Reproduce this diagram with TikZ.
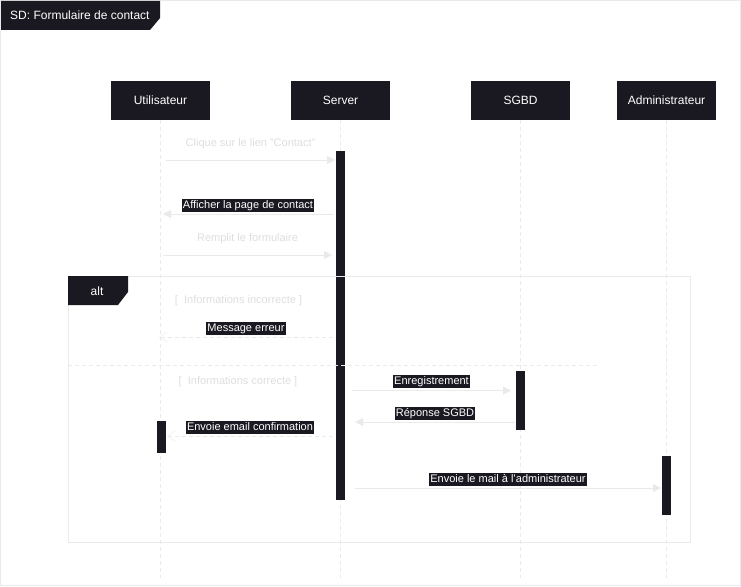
\documentclass[tikz,border=0pt]{standalone}
\usepackage{fontspec}
\setmainfont{Liberation Sans}
\usepackage{xcolor}
\usetikzlibrary{arrows.meta}
\definecolor{ink}{RGB}{26,24,32}
\definecolor{faint}{RGB}{234,234,234}
\definecolor{ghost}{RGB}{222,222,222}

\begin{document}
\begin{tikzpicture}[x=1pt,y=-1pt,
    actor/.style={fill=ink,text=white,minimum width=99pt,minimum height=39pt,inner sep=0pt,font=\fontsize{12}{14}\selectfont},
    life/.style={draw=faint,dash pattern=on 4pt off 3pt},
    bar/.style={fill=ink,minimum width=9pt,inner sep=0pt,anchor=north},
    sync/.style={draw=faint,-{Triangle[length=8pt,width=8pt]}},
    reply/.style={draw=faint,dash pattern=on 4pt off 3pt,-{Straight Barb[length=8pt,width=10pt]}},
    tag/.style={fill=ink,text=white,inner sep=1pt,text height=8.5pt,text depth=2.5pt,font=\fontsize{11}{13}\selectfont,above=2pt},
    hint/.style={text=ghost,inner sep=0pt,font=\fontsize{11}{13}\selectfont,above=11pt}]
  \useasboundingbox (0,0) rectangle (741,586);
  \draw[faint] (0.5,0.5) rectangle (740.5,585.5);
  % title tab
  \fill[ink] (1,1) -- (160,1) -- (160,18) -- (150,30) -- (1,30) -- cycle;
  \node[text=white,anchor=west,inner sep=0pt,font=\fontsize{12}{14}\selectfont] (title) at (10,15.5) {SD: Formulaire de contact};
  % actors and lifelines
  \node[actor] (user) at (160.5,100.5) {Utilisateur};
  \node[actor] (srv) at (340.5,100.5) {Server};
  \node[actor] (db) at (520.5,100.5) {SGBD};
  \node[actor] (admin) at (666.5,100.5) {Administrateur};
  \foreach \a in {user,srv,db,admin}
    \draw[life] (\a.south) -- (\a.south |- 0,578);
  % activations
  \node[bar,minimum height=349pt] (srvbar) at (340.5,151) {};
  \node[bar,minimum height=59pt] (dbbar) at (520.5,371) {};
  \node[bar,minimum height=59pt] (adminbar) at (666.5,456) {};
  \node[bar,minimum height=32pt] (userbar) at (161.5,421) {};
  % alt frame
  \draw[faint] (68,276) rectangle (690,542);
  \fill[ink] (68,276) -- (128,276) -- (128,292) -- (118,305) -- (68,305) -- cycle;
  \node[text=white,inner sep=0pt,font=\fontsize{12}{14}\selectfont] (alt) at (97,291) {alt};
  \draw[faint,dash pattern=on 4pt off 3pt] (68,365) -- (600,365);
  \node[text=ghost,font=\fontsize{11}{13}\selectfont] (g1) at (238.5,301) {[\ \ Informations incorrecte ]};
  \node[text=ghost,font=\fontsize{11}{13}\selectfont] (g2) at (238,381.5) {[\ \ Informations correcte ]};
  % message ends
  \coordinate (m1a) at (166,160);   \coordinate (m1b) at (335,160);
  \coordinate (m2a) at (333,214);   \coordinate (m2b) at (163,214);
  \coordinate (m3a) at (163,255);   \coordinate (m3b) at (332,255);
  \coordinate (m4a) at (333,337);   \coordinate (m4b) at (159,337);
  \coordinate (m5a) at (352,390.5); \coordinate (m5b) at (511,390.5);
  \coordinate (m6a) at (515,422);   \coordinate (m6b) at (355,422);
  \coordinate (m7a) at (333,436);   \coordinate (m7b) at (167,436);
  \coordinate (m8a) at (355,488);   \coordinate (m8b) at (661,488);
  % messages
  \draw[sync] (m1a) -- (m1b) node[midway,hint] {Clique sur le lien "Contact"};
  \draw[sync] (m2a) -- (m2b) node[midway,tag] {Afficher la page de contact};
  \draw[sync] (m3a) -- (m3b) node[midway,hint] {Remplit le formulaire};
  \draw[reply] (m4a) -- (m4b) node[midway,tag] {Message erreur};
  \draw[sync] (m5a) -- (m5b) node[midway,tag] {Enregistrement};
  \draw[sync] (m6a) -- (m6b) node[midway,tag] {Réponse SGBD};
  \draw[reply] (m7a) -- (m7b) node[midway,tag] {Envoie email confirmation};
  \draw[sync] (m8a) -- (m8b) node[midway,tag] {Envoie le mail à l'administrateur};
\end{tikzpicture}
\end{document}
